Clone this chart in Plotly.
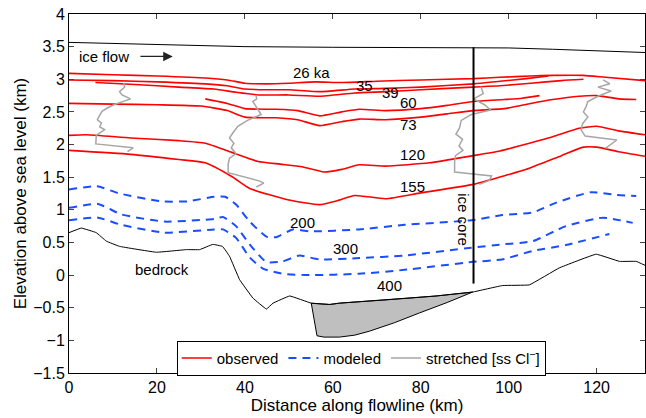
import plotly.graph_objects as go

# ---------------- data ----------------
surface_x = [0, 10, 20, 30, 40, 60, 80, 92, 100, 110, 120, 131]
surface_y = [3.565, 3.55, 3.53, 3.51, 3.50, 3.49, 3.49, 3.48, 3.48, 3.46, 3.44, 3.41]

obs_26_x = [0, 10, 20, 31, 36, 40, 45, 50, 56, 62, 70, 80, 92, 98, 105, 110, 117, 122, 131]
obs_26_y = [3.09, 3.07, 3.05, 3.02, 2.99, 2.94, 2.93, 2.94, 2.96, 2.95, 2.97, 2.99, 3.01, 3.03, 3.05, 3.06, 3.06, 3.03, 2.98]

obs_35_x = [0, 10, 20, 31, 36, 40, 45, 50, 57, 65, 72, 80, 92, 98, 104, 109]
obs_35_y = [2.99, 2.98, 2.96, 2.93, 2.90, 2.85, 2.84, 2.84, 2.81, 2.85, 2.86, 2.88, 2.93, 2.97, 3.01, 3.05]

obs_39_x = [6, 15, 25, 33, 38, 43, 50, 57, 65, 72, 80, 92, 98, 105, 112, 117]
obs_39_y = [2.95, 2.92, 2.88, 2.85, 2.80, 2.76, 2.76, 2.74, 2.79, 2.81, 2.84, 2.88, 2.90, 2.94, 2.98, 3.00]

obs_60_x = [31, 36, 40, 47, 52, 57, 62, 66, 72, 80, 86, 92, 99, 103, 107]
obs_60_y = [2.70, 2.63, 2.55, 2.54, 2.52, 2.44, 2.50, 2.54, 2.52, 2.55, 2.60, 2.66, 2.69, 2.71, 2.75]

obs_73_x = [0, 10, 20, 30, 36, 40, 47, 52, 57, 62, 66, 72, 80, 86, 92, 99, 105, 110, 116, 120, 125, 129]
obs_73_y = [2.63, 2.62, 2.61, 2.59, 2.52, 2.42, 2.41, 2.38, 2.29, 2.35, 2.39, 2.38, 2.42, 2.47, 2.52, 2.55, 2.63, 2.69, 2.74, 2.75, 2.70, 2.69]

obs_120_x = [0, 4, 14, 25, 31, 37, 43, 48, 53, 58, 62, 66, 72, 82, 92, 98, 103, 110, 116, 120, 125, 131]
obs_120_y = [2.14, 2.15, 2.10, 2.06, 2.02, 1.88, 1.74, 1.70, 1.66, 1.58, 1.62, 1.69, 1.67, 1.72, 1.83, 1.90, 1.99, 2.12, 2.25, 2.28, 2.21, 2.15]

obs_155_x = [0, 14, 25, 31, 37, 41, 45.6, 50, 57, 61, 65, 72, 80, 92, 100, 104, 112, 117, 120, 125, 131]
obs_155_y = [1.91, 1.85, 1.77, 1.72, 1.51, 1.33, 1.23, 1.15, 1.08, 1.14, 1.22, 1.17, 1.26, 1.39, 1.54, 1.62, 1.83, 1.96, 1.96, 1.89, 1.82]

mod_200_x = [0, 6.4, 11.5, 21, 27, 33, 35.5, 38, 41.1, 44.9, 47.1, 50.9, 54.7, 66, 76.3, 91.5, 98.5, 105.5, 110.8, 118.7, 124.4, 129]
mod_200_y = [1.31, 1.36, 1.25, 1.13, 1.13, 1.20, 1.20, 1.08, 0.82, 0.59, 0.58, 0.70, 0.67, 0.70, 0.77, 0.84, 0.92, 0.96, 1.11, 1.27, 1.23, 1.21]

mod_300_x = [0, 6.6, 11.9, 21.7, 33, 35, 38, 41.1, 44.9, 48.6, 52.4, 57, 66, 76.3, 91.5, 98.5, 105.5, 113, 121.4, 128.2]
mod_300_y = [1.03, 1.09, 0.93, 0.82, 0.86, 0.89, 0.75, 0.47, 0.20, 0.21, 0.30, 0.24, 0.26, 0.30, 0.42, 0.47, 0.52, 0.75, 0.88, 0.80]

mod_400_x = [0, 6.6, 11.9, 21.7, 33, 35, 38, 41.1, 44.1, 48.6, 54.7, 66, 76.3, 91.5, 98.5, 105.5, 113, 122.9]
mod_400_y = [0.84, 0.88, 0.77, 0.65, 0.70, 0.70, 0.57, 0.27, 0.10, 0.02, 0.00, 0.02, 0.08, 0.20, 0.24, 0.37, 0.46, 0.63]

bed_x = [0, 2.8, 6.2, 8.5, 11.5, 19.9, 26.7, 29.7, 32.7, 34.9, 36.5, 38.8, 41.8, 44.9, 46.4, 50.2, 55.1, 59.3, 61.5, 72.1, 83.5, 91.8, 98.6, 104.7, 111.5, 119.9, 125.2, 129, 131]
bed_y = [0.65, 0.72, 0.65, 0.52, 0.44, 0.35, 0.39, 0.39, 0.47, 0.44, 0.29, -0.07, -0.35, -0.52, -0.43, -0.32, -0.43, -0.45, -0.43, -0.38, -0.32, -0.26, -0.16, -0.15, 0.11, 0.32, 0.21, 0.21, 0.15]

basal_x = [55.1, 59.3, 61.5, 72.1, 83.5, 91.8, 86, 79.7, 74, 68.3, 65, 61.5, 58, 56.4, 55.1]
basal_y = [-0.43, -0.45, -0.43, -0.38, -0.32, -0.26, -0.42, -0.58, -0.73, -0.86, -0.92, -0.95, -0.95, -0.93, -0.43]

str1_x = [12.45, 12.66, 11.5, 12.05, 14.0, 12.3, 10.2, 8.7, 7.5, 6.75, 6.45, 7.35, 7.0, 8.1, 7.0, 6.2, 6.1, 14.6, 13.3]
str1_y = [2.94, 2.88, 2.81, 2.76, 2.70, 2.66, 2.61, 2.56, 2.51, 2.42, 2.38, 2.33, 2.27, 2.23, 2.18, 2.14, 2.01, 1.95, 1.89]

str2_x = [42.5, 42.7, 41.8, 43.2, 43.7, 40.6, 38.4, 37.3, 36.5, 37.5, 36.9, 38.0, 36.5, 36.2, 36.2, 43.4, 44.3, 42.6]
str2_y = [2.76, 2.70, 2.66, 2.51, 2.46, 2.37, 2.28, 2.18, 2.10, 2.02, 1.95, 1.86, 1.79, 1.70, 1.57, 1.44, 1.41, 1.35]

str3_x = [93.7, 94.2, 92.0, 94.5, 95.9, 91.5, 89.2, 88.8, 88.0, 89.5, 88.7, 89.6, 87.9, 87.7, 87.7, 96.1, 95.6, 93.3]
str3_y = [2.89, 2.78, 2.70, 2.61, 2.53, 2.46, 2.37, 2.25, 2.16, 2.08, 1.98, 1.91, 1.83, 1.74, 1.58, 1.52, 1.45, 1.39]

str4_x = [121.5, 123.0, 120.3, 123.3, 120.3, 118.0, 117.6, 117.0, 118.0, 116.8, 116.5, 117.4, 124.6, 122.0]
str4_y = [2.99, 2.93, 2.88, 2.82, 2.74, 2.66, 2.58, 2.50, 2.42, 2.32, 2.22, 2.13, 2.07, 1.94]

core_x = [92, 92]
core_y = [3.49, -0.13]

x_ticks = [0, 20, 40, 60, 80, 100, 120]
y_ticks = [-1.5, -1, -0.5, 0, 0.5, 1, 1.5, 2, 2.5, 3, 3.5, 4]

obs_labels = ["26 ka", "35", "39", "60", "73", "120", "155"]
obs_label_x = [55.2, 67.1, 73.1, 77.1, 77.1, 78.1, 78.1]
obs_label_y = [3.10, 2.90, 2.80, 2.65, 2.30, 1.85, 1.35]
mod_labels = ["200", "300", "400"]
mod_label_x = [53.0, 62.9, 73.0]
mod_label_y = [0.80, 0.40, -0.16]

# ---------------- figure ----------------
FONT = "Liberation Sans, Arial, Helvetica, sans-serif"
RED = "#ff0000"
BLUE = "#1a4dff"
GRAY = "#a6a6a6"

fig = go.Figure()

fig.add_trace(go.Scatter(x=basal_x, y=basal_y, mode="lines", fill="toself",
                         fillcolor="#bfbfbf", line=dict(color="black", width=1),
                         showlegend=False, hoverinfo="skip"))

fig.add_trace(go.Scatter(x=surface_x, y=surface_y, mode="lines",
                         line=dict(color="black", width=1), showlegend=False))
fig.add_trace(go.Scatter(x=bed_x, y=bed_y, mode="lines", line_shape="spline",
                         line=dict(color="black", width=1, smoothing=0.2), showlegend=False))

obs = [(obs_26_x, obs_26_y), (obs_35_x, obs_35_y), (obs_39_x, obs_39_y),
       (obs_60_x, obs_60_y), (obs_73_x, obs_73_y), (obs_120_x, obs_120_y),
       (obs_155_x, obs_155_y)]
for i, (xx, yy) in enumerate(obs):
    fig.add_trace(go.Scatter(x=xx, y=yy, mode="lines", line_shape="spline",
                             line=dict(color=RED, width=1.6, smoothing=0.5),
                             name="observed", legendgroup="obs", showlegend=(i == 0)))

mods = [(mod_200_x, mod_200_y), (mod_300_x, mod_300_y), (mod_400_x, mod_400_y)]
for i, (xx, yy) in enumerate(mods):
    fig.add_trace(go.Scatter(x=xx, y=yy, mode="lines", line_shape="spline",
                             line=dict(color=BLUE, width=2, dash="8px,6px", smoothing=0.5),
                             name="modeled", legendgroup="mod", showlegend=(i == 0)))

strs = [(str1_x, str1_y), (str2_x, str2_y), (str3_x, str3_y), (str4_x, str4_y)]
for i, (xx, yy) in enumerate(strs):
    fig.add_trace(go.Scatter(x=xx, y=yy, mode="lines",
                             line=dict(color=GRAY, width=1.5),
                             name="stretched [ss Cl<sup>−</sup>]", legendgroup="str",
                             showlegend=(i == 0)))

fig.add_trace(go.Scatter(x=core_x, y=core_y, mode="lines",
                         line=dict(color="black", width=2), showlegend=False))

annotations = []
for t, x, y in zip(obs_labels + mod_labels, obs_label_x + mod_label_x, obs_label_y + mod_label_y):
    annotations.append(dict(x=x, y=y, text=t, showarrow=False, font=dict(size=15, color="black")))
annotations.append(dict(x=21.1, y=0.08, text="bedrock", showarrow=False, font=dict(size=15, color="black")))
annotations.append(dict(x=89.7, y=0.85, text="ice core", showarrow=False, textangle=90,
                        font=dict(size=15, color="black")))
annotations.append(dict(x=7.9, y=3.35, text="ice flow", showarrow=False, font=dict(size=15, color="black")))
annotations.append(dict(x=23.6, y=3.35, ax=15.9, ay=3.35, axref="x", ayref="y", xref="x", yref="y",
                        text="", showarrow=True, arrowhead=2, arrowsize=1.6, arrowwidth=1.2,
                        arrowcolor="#222222"))

fig.update_layout(
    width=646, height=418,
    margin=dict(l=69, r=1, t=14, b=45),
    paper_bgcolor="white", plot_bgcolor="white",
    font=dict(family=FONT, size=16, color="black"),
    annotations=annotations,
    showlegend=True,
    hovermode=False,
    legend=dict(orientation="h", x=0.187, y=0.09, xanchor="left", yanchor="top",
                bordercolor="black", borderwidth=1, bgcolor="white",
                font=dict(size=15), tracegroupgap=0, itemwidth=30),
)
fig.update_xaxes(range=[0, 131], tickvals=x_ticks, ticks="inside", ticklen=5,
                 showline=True, linecolor="black", linewidth=1, mirror="ticks",
                 showgrid=False, zeroline=False, automargin=False,
                 title=dict(text="Distance along flowline (km)", font=dict(size=17), standoff=0))
fig.update_yaxes(range=[-1.5, 4], tickvals=y_ticks, ticks="inside", ticklen=5,
                 showline=True, linecolor="black", linewidth=1, mirror="ticks",
                 showgrid=False, zeroline=False, automargin=False,
                 title=dict(text="Elevation above sea level (km)", font=dict(size=17), standoff=2))

fig.write_html("out.html", config={"displayModeBar": False},
               post_script="document.body.style.margin='0px';document.body.style.padding='0px';")
